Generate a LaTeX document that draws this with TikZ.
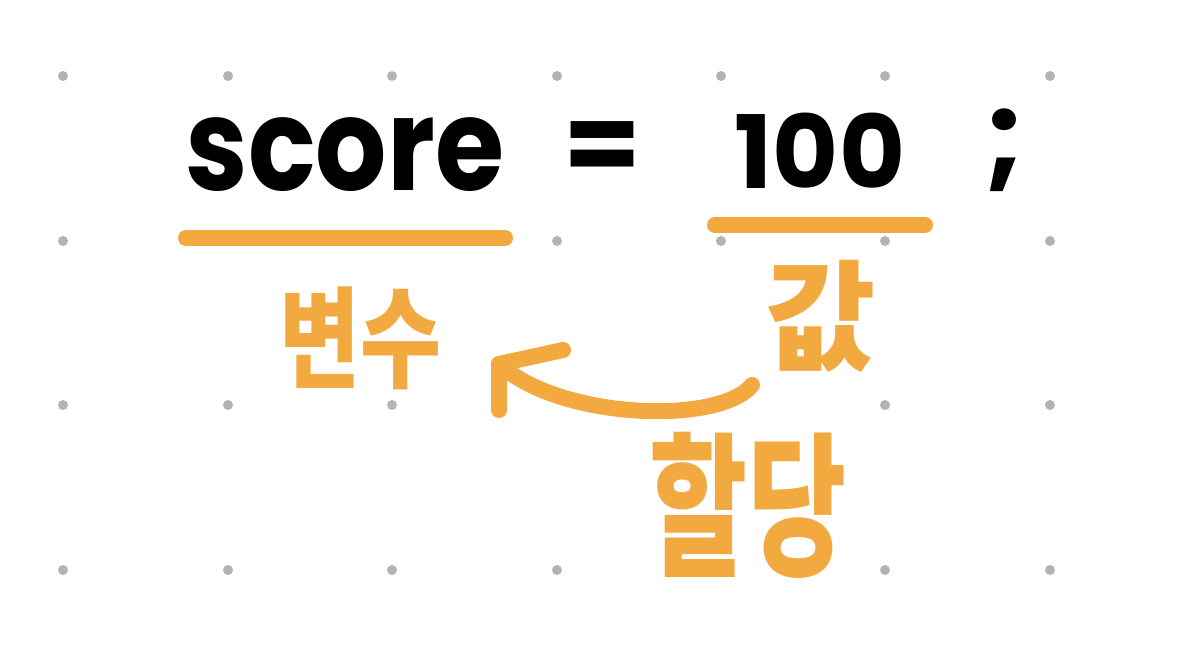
\documentclass[tikz,border=0pt]{standalone}
\usepackage{fontspec}
\setmainfont{Poppins}
\newfontfamily\krfont{Noto Sans CJK KR}
\usetikzlibrary{positioning}
\definecolor{pen}{HTML}{F2AA40}
\definecolor{dotgray}{HTML}{B3B3B3}
\tikzset{
    griddot/.style={fill=dotgray},
    codetext/.style={
        inner sep=0pt, text=black,
        font=\fontsize{#1}{#1}\selectfont\bfseries
    },
    labeltext/.style={
        inner sep=0pt, text=pen,
        font=\krfont\bfseries\fontsize{#1}{#1}\selectfont
    },
    penstroke/.style={draw=pen, line width=12pt, line cap=round, line join=round},
}
\begin{document}
\begin{tikzpicture}[x=0.75pt, y=-0.75pt]
    \fill[white] (0,0) rectangle (1202,660);
    \useasboundingbox (0,0) rectangle (1202,660);
    % dot grid
    \foreach \y/\cols in {76/{63,228,392,557,721,885,1050},
                          241/{63,557,721,885,1050},
                          405/{63,228,392,885,1050},
                          570/{63,228,392,557,885,1050}} {
        \foreach \x in \cols {\fill[griddot] (\x,\y) circle (5);}
    }
    % code line
    \node[codetext=84, yscale=1.15] (score) at (345,155) {score};
    \node[codetext=84] (eq) at (602,153) {=};
    \node[codetext=76] (hundred) at (820,151) {100};
    \node[codetext=88] (semi) at (1005,150) {;};
    \draw[penstroke] (186,238) -- (505,238);
    \draw[penstroke] (715,225) -- (925,225);
    % labels
    \node[labeltext=66, yscale=1.25] (var) at (360,338) {변수};
    \node[labeltext=90] (val) at (821,316) {값};
    \node[labeltext=80, yscale=1.45] (assign) at (748,505) {할당};
    % arrow
    \coordinate (tail) at (752,385);
    \coordinate (tip) at (499,364);
    \draw[penstroke] (tail) .. controls (720,425) and (560,420) .. (tip);
    \draw[penstroke] (563,350) -- (tip) -- (499,410);
\end{tikzpicture}
\end{document}
